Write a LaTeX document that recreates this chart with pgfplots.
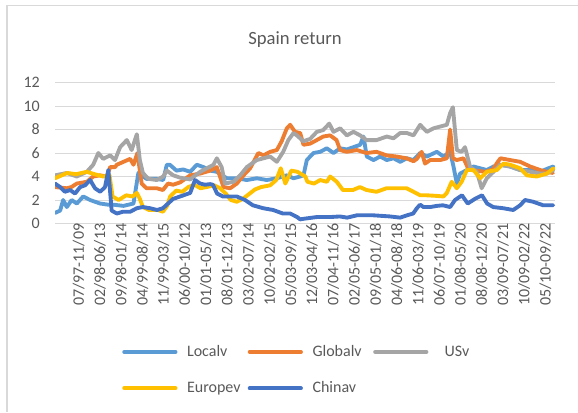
\documentclass[border=0pt]{standalone}
\usepackage{fontspec}
\setmainfont{Carlito}
\usepackage{pgfplots}
\pgfplotsset{compat=1.18}
\definecolor{cLocal}{HTML}{5B9BD5}
\definecolor{cGlobal}{HTML}{ED7D31}
\definecolor{cUS}{HTML}{A5A5A5}
\definecolor{cEurope}{HTML}{FFC000}
\definecolor{cChina}{HTML}{4472C4}
\definecolor{gridgray}{HTML}{D9D9D9}
\definecolor{textgray}{HTML}{595959}
\newcommand{\lgd}[1]{\makebox[45.5pt][l]{#1}}
\begin{document}
\begin{tikzpicture}
\useasboundingbox (0pt,0pt) rectangle (433.5pt,309pt);
\draw[gridgray,line width=1.2pt] (5.25pt,0pt) -- (5.25pt,304.9pt) -- (433.5pt,304.9pt);
\node[font=\fontsize{14}{16}\selectfont,text=textgray] at (221.25pt,279pt) {Spain return};
\begin{axis}[
  at={(41.25pt,141.375pt)},anchor=south west,
  scale only axis,width=375pt,height=105.75pt,
  xmin=0,xmax=165,ymin=0,ymax=12,
  axis line style={draw=none},
  tick style={draw=none},
  ymajorgrids,grid style={gridgray,line width=0.75pt},
  ytick={0,2,...,12},
  xtick={5,12,...,159},
  xticklabels={07/97-11/09,02/98-06/13,09/98-01/14,04/99-08/14,11/99-03/15,06/00-10/12,01/01-05/13,08/01-12/13,03/02-07/14,10/02-02/15,05/03-09/15,12/03-04/16,07/04-11/16,02/05-06/17,09/05-01/18,04/06-08/18,11/06-03/19,06/07-10/19,01/08-05/20,08/08-12/20,03/09-07/21,10/09-02/22,05/10-09/22},
  /pgf/number format/assume math mode=true,
  tick label style={font=\fontsize{12}{14}\selectfont,text=textgray},
  xticklabel style={rotate=90,anchor=east,inner sep=0pt,yshift=-6.4pt},
  yticklabel style={anchor=east,inner sep=0pt,xshift=-11.25pt},
  every axis plot/.append style={line width=2.9pt,line cap=round,line join=round},
  legend columns=3,
  legend style={at={(0.134,-0.862)},anchor=north west,draw=none,fill=none,inner sep=0pt,
    font=\fontsize{12}{14}\selectfont,text=textgray,nodes={inner sep=0pt},
    /tikz/every odd column/.append style={column sep=7.2pt},
    /tikz/every even column/.append style={column sep=0pt},
    /tikz/row sep=17.5pt},
  legend cell align=left,
  legend image code/.code={\draw[#1,line cap=round] (1.45pt,0pt) -- (39.95pt,0pt);},
]
\addplot[cLocal] coordinates {(0,0.9)(1.7,1.1)(2.7,2.0)(3.9,1.4)(5.5,2.0)(7.2,1.7)(9.3,2.3)(11.6,2.0)(13.2,1.85)(14.9,1.7)(17.6,1.6)(19.3,1.6)(22.6,1.5)(25.9,1.7)(27.5,4.3)(30.2,3.8)(33.6,3.8)(35.7,3.7)(36.9,5.0)(37.9,5.0)(40.1,4.5)(42.3,4.6)(44.6,4.4)(46.8,5.0)(49,4.8)(51.2,4.5)(53.4,4.4)(56.7,3.85)(60,3.85)(63.3,3.7)(66.6,3.85)(69.9,3.7)(73.2,3.85)(76.5,4.1)(78.7,3.85)(80.9,4.0)(82,4.1)(83.1,5.4)(85.3,6.0)(87.5,6.1)(89.7,6.4)(91.9,6.0)(94.1,6.4)(96.3,6.3)(98.5,6.5)(100.7,6.7)(101.8,7.4)(102.9,5.7)(105.1,5.4)(107.3,5.7)(109.5,5.4)(111.7,5.55)(113.9,5.25)(116.1,5.55)(118.3,5.4)(120.5,6.0)(122.7,5.7)(126,6.1)(128.2,5.7)(130.4,6.1)(131.5,4.85)(132.6,3.4)(133.7,4.25)(135.9,4.55)(138.1,4.85)(140.3,4.7)(142.5,4.55)(144.7,4.85)(146.9,5.0)(150.2,4.85)(153.5,4.55)(156.8,4.55)(160.1,4.4)(162.8,4.7)(164.5,4.85)};
\addlegendentry{\lgd{Localv}}
\addplot[cGlobal] coordinates {(0,3.1)(3.9,3.0)(5.4,3.1)(7.2,3.4)(10.5,3.55)(12.6,4.0)(14.8,4.1)(17.1,4.0)(18.2,4.8)(19.8,4.8)(20.4,5.0)(22.6,5.25)(24.8,5.5)(25.9,5.0)(27.2,6.0)(28.6,3.4)(30.2,3.0)(33.6,3.0)(35.6,2.85)(37.3,3.4)(39,3.3)(41.3,3.5)(44.6,4.1)(47.9,4.25)(51.2,4.5)(53.4,4.8)(55.6,3.1)(57.8,3.0)(60,3.4)(62.2,4.1)(64.4,4.7)(67.1,6.0)(68.8,5.8)(71,6.1)(73.2,6.25)(74.8,7.0)(76.5,8.1)(77.6,8.4)(79.2,7.8)(80.9,7.7)(82,6.7)(84.2,6.8)(86.4,7.1)(88.5,7.4)(90.8,7.5)(92.9,7.1)(94.1,6.25)(96.3,6.1)(99.6,6.25)(102.8,6.0)(106.1,6.1)(109.4,5.8)(112.7,5.7)(116,5.55)(118.3,5.3)(119.4,5.5)(121,6.1)(122.1,5.1)(123.8,5.4)(127.1,5.4)(129.3,5.55)(130.4,8.0)(131.3,5.55)(132.6,5.4)(134.8,5.55)(136.5,4.6)(139,4.5)(142,4.4)(144.5,4.6)(146,5.2)(147,5.55)(150.2,5.4)(153.5,5.25)(156.8,4.85)(160.1,4.55)(162.3,4.4)(164.3,4.3)};
\addlegendentry{\lgd{Globalv}}
\addplot[cUS] coordinates {(0,4.1)(3.9,4.3)(7.2,4.0)(10.5,4.4)(12.6,5.0)(14.3,6.0)(15.9,5.5)(18.2,5.8)(19.8,5.4)(21.5,6.5)(23.7,7.1)(25.3,6.25)(27,7.6)(28,5.4)(29,4.3)(30.8,3.8)(33.6,3.7)(35.7,4.0)(36.9,4.5)(39,4.1)(41.3,3.9)(44.6,3.75)(47.9,4.4)(50.1,4.7)(52.3,5.0)(53.4,5.55)(55,4.8)(56.1,3.4)(58.9,3.55)(61.1,4.1)(63.3,4.8)(66.6,5.4)(68.8,5.55)(71,5.7)(73.2,5.25)(75.3,6.1)(77,7.1)(78.7,7.7)(79.8,7.5)(80.9,7.25)(81.9,7.0)(84.2,7.2)(86.4,7.8)(88.5,7.95)(90.5,8.5)(91.9,7.8)(94.1,8.1)(96.3,7.5)(98.5,7.8)(100.7,7.5)(102.8,7.1)(106.1,7.1)(109.5,7.4)(111.7,7.25)(113.9,7.7)(116.1,7.7)(118.3,7.5)(120.5,8.4)(122.7,7.8)(124.9,8.1)(127.1,8.25)(129.3,8.4)(130.4,9.4)(131.3,9.9)(132.6,6.25)(134.2,6.1)(135.3,6.5)(137,4.8)(139.2,4.4)(140.8,3.0)(142.5,3.85)(144.7,4.4)(146.9,5.0)(150.2,4.85)(153.5,4.55)(156.8,4.4)(160.1,4.25)(162.3,4.25)(164.5,4.55)};
\addlegendentry{\lgd{\hspace*{5pt}USv}}
\addplot[cEurope] coordinates {(0,3.85)(4,4.3)(7,4.2)(10.5,4.4)(13,4.2)(15.9,4.0)(18,4.1)(19,2.3)(21,2.0)(23.5,2.4)(25.6,2.3)(27,2.6)(28,2.1)(29,1.4)(31,1.15)(34,1.15)(35.6,1.0)(37,1.5)(38,2.3)(40,2.8)(42,2.7)(44,3.1)(46,3.3)(48,3.0)(50,3.1)(52.5,3.25)(54.5,3.0)(56.5,2.5)(58,2.0)(60,1.85)(62,2.1)(64,2.5)(66,2.9)(68,3.1)(71,3.25)(73,3.7)(74.5,4.7)(76,3.4)(78,4.5)(80,4.4)(82.6,4.0)(83.3,3.55)(85.5,3.4)(87.5,3.7)(89.7,3.55)(90.8,4.0)(93,3.55)(95,2.85)(98.3,2.85)(100.6,3.1)(102.8,2.85)(106.1,2.7)(109.4,3.0)(112.7,3.0)(116,3.0)(118.3,2.7)(120.5,2.4)(122.7,2.4)(126,2.35)(128.2,2.3)(129.3,2.6)(130.9,3.55)(132.6,3.0)(134.2,3.55)(135.9,4.55)(138.1,4.55)(140.3,3.85)(142.5,4.4)(145.8,4.55)(148,5.1)(150.2,5.0)(153.5,4.7)(155.7,4.1)(159,4.0)(162.3,4.25)(164.5,4.7)};
\addlegendentry{\lgd{Europev}}
\addplot[cChina] coordinates {(0,3.4)(1.7,3.1)(3.3,2.7)(5,2.85)(6.6,2.55)(8.3,3.1)(9.9,3.25)(11.6,3.7)(13.2,3.0)(14.9,2.7)(16.5,3.1)(17.6,4.55)(18.7,1.1)(20.4,0.85)(22.4,1.0)(24.8,1.0)(27,1.3)(29,1.4)(31.4,1.3)(33.7,1.15)(35.6,1.3)(37.3,1.7)(39,2.1)(41.3,2.3)(44.6,2.6)(46.2,3.7)(47.9,3.4)(49.5,3.3)(51.2,3.35)(52.1,3.3)(53.5,2.55)(55.4,2.3)(60,2.3)(62.7,2.0)(65.3,1.55)(68.7,1.3)(72,1.15)(75.2,0.85)(77.6,0.85)(79.9,0.55)(80.9,0.35)(82,0.4)(86.4,0.55)(90.8,0.55)(94,0.6)(96.4,0.5)(99.7,0.7)(104.9,0.7)(110.6,0.6)(113.9,0.5)(116.2,0.7)(118.2,0.85)(119.4,1.3)(120.5,1.6)(121.6,1.4)(123.8,1.4)(126,1.5)(128,1.55)(130.4,1.4)(132,2.0)(134.3,2.4)(136.2,1.7)(138.6,2.1)(140.9,2.4)(142.6,1.7)(144.6,1.4)(147.9,1.3)(151.2,1.15)(153.5,1.55)(155.1,2.0)(157.8,1.85)(161.1,1.55)(164.4,1.55)};
\addlegendentry{\lgd{Chinav}}
\end{axis}
\end{tikzpicture}
\end{document}
